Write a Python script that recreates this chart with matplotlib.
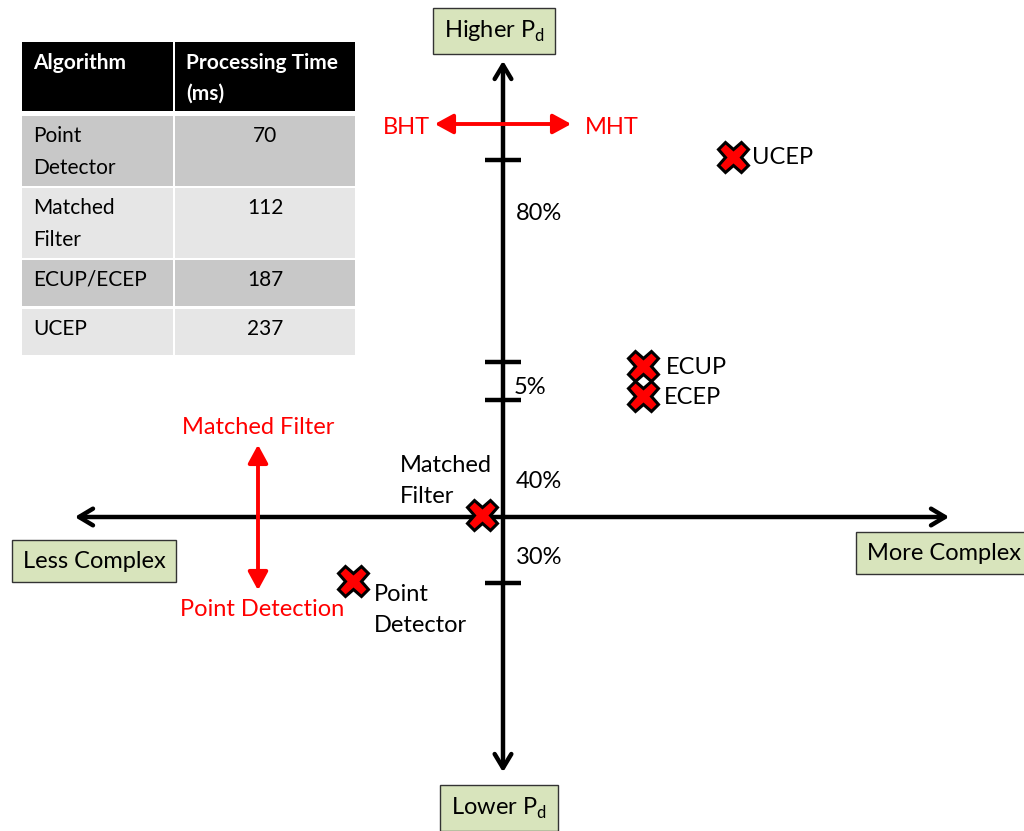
import matplotlib.pyplot as plt
from matplotlib.patches import Rectangle, FancyArrowPatch

plt.rcParams['font.family'] = ['Lato', 'DejaVu Sans']

# Tabela de tempos de processamento
algoritmos = ['Point\nDetector', 'Matched\nFilter', 'ECUP/ECEP', 'UCEP']
tempos_ms = ['70', '112', '187', '237']

# Pontos do diagrama (x = complexidade, y = Pd) em coordenadas do desenho
nomes = ['UCEP', 'ECUP', 'ECEP', 'Matched\nFilter', 'Point\nDetector']
complexidade = [733, 643, 643, 482, 353]
prob_deteccao = [157, 366, 396, 515, 581]

# Marcas do eixo vertical e seus rótulos
marcas_y = [160, 362, 400, 583]
rotulos_pct = ['80%', '5%', '40%', '30%']
pos_rotulos_pct = [213, 388, 481, 558]

fig = plt.figure(figsize=(10.24, 8.31), dpi=100)
ax = fig.add_axes([0, 0, 1, 1])
ax.set_xlim(0, 1024)
ax.set_ylim(831, 0)
ax.axis('off')

cx, cy = 503, 517
fs = 17

# Eixos com setas
ax.add_patch(FancyArrowPatch((cx, 775), (cx, 58), arrowstyle='<->,head_length=10,head_width=6',
                             lw=3.2, color='black', mutation_scale=1))
ax.add_patch(FancyArrowPatch((72, cy), (952, cy), arrowstyle='<->,head_length=10,head_width=6',
                             lw=3.2, color='black', mutation_scale=1))

for yy in marcas_y:
    ax.plot([485, 521], [yy, yy], color='black', lw=3.2, solid_capstyle='butt')

for txt, yy in zip(rotulos_pct, pos_rotulos_pct):
    ax.text(516 if txt != '5%' else 514, yy, txt, fontsize=fs, ha='left', va='center')

# Caixas dos extremos
caixa = dict(boxstyle='square,pad=0.45', fc='#d8e4bc', ec='#333333', lw=1)
ax.text(494, 31, 'Higher P$_\\mathregular{d}$', fontsize=fs, ha='center', va='center', bbox=caixa)
ax.text(499, 808, 'Lower P$_\\mathregular{d}$', fontsize=fs, ha='center', va='center', bbox=caixa)
ax.text(94, 561, 'Less Complex', fontsize=fs, ha='center', va='center', bbox=caixa)
ax.text(944, 553, 'More Complex', fontsize=fs, ha='center', va='center', bbox=caixa)

# Setas vermelhas
ax.add_patch(FancyArrowPatch((432, 124), (574, 124), arrowstyle='<|-|>,head_length=11,head_width=6',
                             lw=2.8, color='red', mutation_scale=1))
ax.text(430, 127, 'BHT', color='red', fontsize=fs, ha='right', va='center')
ax.text(585, 127, 'MHT', color='red', fontsize=fs, ha='left', va='center')
ax.add_patch(FancyArrowPatch((258, 442), (258, 593), arrowstyle='<|-|>,head_length=11,head_width=6',
                             lw=2.8, color='red', mutation_scale=1))
ax.text(258, 428, 'Matched Filter', color='red', fontsize=fs, ha='center', va='center')
ax.text(262, 610, 'Point Detection', color='red', fontsize=fs, ha='center', va='center')

# Marcadores dos algoritmos
ax.plot(complexidade, prob_deteccao, linestyle='none', marker='X', markersize=22,
        markerfacecolor='red', markeredgecolor='black', markeredgewidth=2.2, zorder=5)

pos_nomes = [(752, 157, 'left', 'center'), (666, 367, 'left', 'center'), (664, 397, 'left', 'center'),
             (400, 481, 'left', 'center'), (374, 610, 'left', 'center')]
for nome, (tx, ty, ha, va) in zip(nomes, pos_nomes):
    ax.text(tx, ty, nome, fontsize=fs, ha=ha, va=va, linespacing=1.6)

# Tabela
col_x = [22, 175]
col_w = [151, 180]
linhas_y = [42, 116, 188, 260, 309]
linhas_h = [69, 70, 70, 46, 46]
cores = ['black', '#c8c8c8', '#e6e6e6', '#c8c8c8', '#e6e6e6']
cabecalho = ['Algorithm', 'Processing Time\n(ms)']

for i, (y0, h) in enumerate(zip(linhas_y, linhas_h)):
    for j in range(2):
        ax.add_patch(Rectangle((col_x[j], y0), col_w[j], h, fc=cores[i], ec='none'))
    if i == 0:
        ax.text(33, y0 + 11, cabecalho[0], color='white', fontsize=15, fontweight='bold', ha='left', va='top')
        ax.text(186, y0 + 11, cabecalho[1], color='white', fontsize=15, fontweight='bold', ha='left',
                va='top', linespacing=1.65)
    else:
        ax.text(33, y0 + 10, algoritmos[i - 1], fontsize=15, ha='left', va='top', linespacing=1.75)
        ax.text(265, y0 + 10, tempos_ms[i - 1], fontsize=15, ha='center', va='top')

fig.savefig('out.png', dpi=100)
